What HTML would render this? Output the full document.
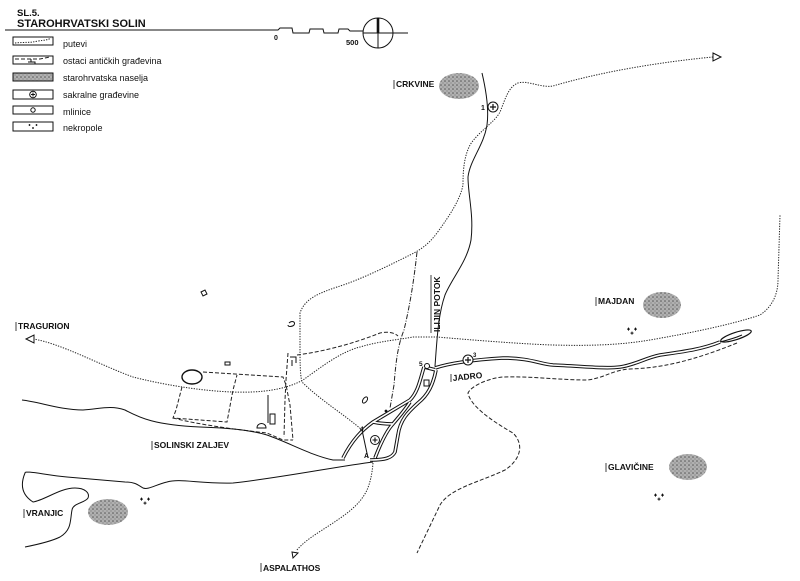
<!DOCTYPE html>
<html><head><meta charset="utf-8">
<style>
html,body{margin:0;padding:0;background:#fff;}
svg{display:block;}
text{font-family:"Liberation Sans",Arial,sans-serif;fill:#111;}
.b{font-weight:bold;font-size:8.5px;}
.lg{font-size:9px;}
.dot{fill:none;stroke:#222;stroke-width:1;stroke-dasharray:1.3 1.3;}
.dash{fill:none;stroke:#222;stroke-width:1;stroke-dasharray:4 2;}
.dd{fill:none;stroke:#222;stroke-width:1;stroke-dasharray:5 1.5 1 1.5;}
.sol{fill:none;stroke:#111;stroke-width:1;}
.rv1{fill:none;stroke:#111;stroke-width:3.6;}
.rv2{fill:none;stroke:#fff;stroke-width:1.6;}
</style></head>
<body>
<svg width="800" height="581" viewBox="0 0 800 581" xmlns="http://www.w3.org/2000/svg">
<defs>
<pattern id="st" width="4" height="4" patternUnits="userSpaceOnUse">
<rect width="4" height="4" fill="#b0b0b0"/>
<circle cx="1" cy="1" r="0.8" fill="#555"/>
<circle cx="3" cy="3" r="0.6" fill="#777"/>
</pattern>
</defs>

<!-- Title -->
<text x="17" y="16" style="font-weight:bold;font-size:9.5px">SL.5.</text>
<text x="17" y="27" style="font-weight:bold;font-size:11px">STAROHRVATSKI SOLIN</text>
<path class="sol" d="M5,30 L278,30 L280,28 L292,28 L293,33 L309,33 L310,29 L323,29 L324,33 L338,33 L339,29 L348,29 L350,31 L363,31"/>
<text x="274" y="40" style="font-weight:bold;font-size:7px">0</text>
<text x="346" y="45" style="font-weight:bold;font-size:7.5px">500</text>
<circle cx="378" cy="33" r="15" class="sol"/>
<line x1="363" y1="33" x2="408" y2="33" stroke="#111" stroke-width="1"/>
<line x1="378" y1="18" x2="378" y2="48" stroke="#111" stroke-width="1"/>
<line x1="378" y1="18" x2="378" y2="33" stroke="#111" stroke-width="2.6"/>

<!-- Legend -->
<g stroke="#111" stroke-width="1" fill="none">
<rect x="13" y="37" width="40" height="8"/>
<rect x="13" y="56" width="40" height="8"/>
<rect x="13" y="73" width="40" height="8" fill="url(#st)"/>
<rect x="13" y="90" width="40" height="9"/>
<rect x="13" y="106" width="40" height="8"/>
<rect x="13" y="122" width="40" height="9"/>
</g>
<path class="dot" d="M15,43 C25,42 30,43 38,41 C45,40 48,40 51,38"/>
<path class="dash" d="M15,59 L40,59 L50,57"/>
<path class="sol" d="M31,59 L31,62 M28,62 L35,62 L35,64"/>
<circle cx="33" cy="94.5" r="3.3" class="sol"/>
<path d="M33,92.5 V96.5 M31,94.5 H35" stroke="#111" stroke-width="1"/>
<circle cx="33" cy="110" r="2.2" class="sol"/>
<g fill="#111"><rect x="28.5" y="124.6" width="2" height="0.8"/><rect x="29.1" y="124" width="0.8" height="2"/>
<rect x="35.5" y="124.6" width="2" height="0.8"/><rect x="36.1" y="124" width="0.8" height="2"/>
<rect x="32" y="127.6" width="2" height="0.8"/><rect x="32.6" y="127" width="0.8" height="2"/></g>
<text class="lg" x="63" y="47">putevi</text>
<text class="lg" x="63" y="64">ostaci antičkih građevina</text>
<text class="lg" x="63" y="81">starohrvatska naselja</text>
<text class="lg" x="63" y="98">sakralne građevine</text>
<text class="lg" x="63" y="115">mlinice</text>
<text class="lg" x="63" y="131">nekropole</text>

<!-- Settlement blobs -->
<ellipse cx="459" cy="86" rx="20" ry="13" fill="url(#st)"/>
<ellipse cx="662" cy="305" rx="19" ry="13" fill="url(#st)"/>
<ellipse cx="688" cy="467" rx="19" ry="13" fill="url(#st)"/>
<ellipse cx="108" cy="512" rx="20" ry="13" fill="url(#st)"/>

<!-- Road from top right -->
<path class="dot" d="M713,57 C660,62 600,72 553,86 C540,88 528,80 518,83 C508,87 505,100 500,112 C495,122 478,132 470,145 C464,157 463,170 463,185 C460,200 450,215 437,233 C428,245 420,250 410,255 C390,265 360,280 337,287 C320,293 305,298 300,313 L300,345 C300,360 300,375 302,382 C320,400 345,415 362,430"/>
<polygon points="713,53 721,57 713,61" fill="#fff" stroke="#111" stroke-width="1"/>

<!-- Ilijin potok -->
<path class="sol" d="M482,73 C486,90 489,110 487,125 C484,145 470,160 468,177 C468,195 474,215 471,240 C467,262 452,278 445,295 C438,315 437,340 435,366"/>
<circle cx="493" cy="107" r="5" fill="#fff" stroke="#111" stroke-width="1"/>
<path d="M493,104 V110 M490,107 H496" stroke="#111" stroke-width="1.2"/>
<text x="481" y="110" style="font-weight:bold;font-size:7px">1</text>

<!-- dash-dot road -->
<path class="dd" d="M417,252 C414,280 410,305 404,330 C398,345 396,360 394,385 L390,408"/>

<!-- Tragurion road -->
<path class="dot" d="M33,339 C60,343 100,365 133,377 C160,384 200,391 233,392 C260,393 285,390 303,380 C320,368 340,352 360,347 C380,341 397,340 413,337 L437,337 C460,339 520,344 553,345 C590,346 620,345 650,340 C690,333 730,325 760,315 C775,305 778,290 778,280 L780,215"/>
<polygon points="26,339 34,335 34,343" fill="#fff" stroke="#111" stroke-width="1"/>

<!-- Dashed ancient -->
<path class="dash" d="M297,355 C320,352 350,345 380,333 C388,331 395,333 398,336"/>
<path class="dash" d="M203,372 L283,377 L286,385 L290,405 L293,440"/>
<path class="dash" d="M182,387 L176,410 L173,418 L227,422 L233,390 L237,375"/>
<path class="dash" d="M173,418 C200,425 240,430 267,433 L283,440 L293,440"/>
<path class="dash" d="M288,353 L286,380 L285,400 L284,437"/>
<path class="dash" d="M737,343 C690,362 660,368 630,369 C612,370 605,378 587,380 C560,380 530,376 503,377 C490,378 472,385 468,393 C470,405 490,420 513,433 C525,445 520,460 505,470 C480,482 450,488 440,505 L417,553"/>
<ellipse cx="192" cy="377" rx="10" ry="7" fill="none" stroke="#111" stroke-width="1.4"/>
<path class="sol" d="M268,395 L268,423"/>
<rect x="270" y="414" width="5" height="10" fill="none" stroke="#111" stroke-width="1"/>
<path class="sol" d="M257,428 C257,422 266,422 266,428 Z"/>

<!-- Coast -->
<path class="sol" d="M22,400 C40,402 60,410 83,410 C100,409 110,405 125,410 C140,418 155,425 200,427 C230,428 250,430 267,435 C290,443 310,455 333,460 L345,460"/>
<path class="sol" d="M373,462 C340,466 280,478 233,483 C200,484 180,478 167,482 C155,485 148,490 143,488 C138,485 135,482 125,482 L67,477 C45,475 25,470 25,473 C20,485 22,495 33,502 C45,500 60,488 75,488 C85,488 90,493 88,498 C85,503 73,503 72,510 C70,520 72,530 60,537 C50,542 35,545 25,547"/>

<!-- Aspalathos road -->
<path class="dot" d="M373,463 C372,475 370,483 367,490 C360,505 345,515 333,523 C318,533 305,540 296,551"/>
<polygon points="292,552 298,553 293,558" fill="#fff" stroke="#111" stroke-width="1"/>

<!-- Jadro river and delta -->
<g>
<path class="rv1" d="M435,368 C450,363 470,360 503,358 C530,358 540,364 553,365 C580,366 605,369 620,367 C635,365 645,358 660,355 C680,352 700,350 720,342"/>
<path class="rv1" d="M424,367 C420,380 418,392 410,400 C400,406 390,412 373,422 C362,430 352,440 343,458"/>
<path class="rv1" d="M436,370 C433,385 428,395 418,403 C408,412 400,420 398,435 L395,452 C392,458 385,460 370,460"/>
<path class="rv1" d="M410,402 C405,410 398,418 392,425 C386,432 380,445 375,458"/>
<path class="rv1" d="M424,367 L436,370"/>
<path class="rv1" d="M373,422 C382,424 388,424 393,424"/>
<path class="rv2" d="M435,368 C450,363 470,360 503,358 C530,358 540,364 553,365 C580,366 605,369 620,367 C635,365 645,358 660,355 C680,352 700,350 720,342"/>
<path class="rv2" d="M424,367 C420,380 418,392 410,400 C400,406 390,412 373,422 C362,430 352,440 343,458"/>
<path class="rv2" d="M436,370 C433,385 428,395 418,403 C408,412 400,420 398,435 L395,452 C392,458 385,460 370,460"/>
<path class="rv2" d="M410,402 C405,410 398,418 392,425 C386,432 380,445 375,458"/>
<path class="rv2" d="M424,367 L436,370"/>
<path class="rv2" d="M373,422 C382,424 388,424 393,424"/>
</g>
<path class="sol" d="M362,430 L368,458"/>
<ellipse cx="736" cy="336" rx="16" ry="3.6" transform="rotate(-18 736 336)" fill="#fff" stroke="#111" stroke-width="1.2"/>
<path class="sol" d="M720,342 C728,340 735,338 742,335"/>

<!-- Symbols -->
<circle cx="468" cy="360" r="5" fill="#fff" stroke="#111" stroke-width="1"/>
<path d="M468,357 V363 M465,360 H471" stroke="#111" stroke-width="1.2"/>
<text x="473" y="357" style="font-weight:bold;font-size:6px">3</text>
<circle cx="375" cy="440" r="4.5" fill="#fff" stroke="#111" stroke-width="1"/>
<path d="M375,437.5 V442.5 M372.5,440 H377.5" stroke="#111" stroke-width="1.1"/>
<circle cx="427" cy="366" r="2.5" fill="#fff" stroke="#111" stroke-width="1"/>
<text x="419" y="366" style="font-weight:bold;font-size:6.5px">5</text>
<text x="360" y="431" style="font-weight:bold;font-size:6.5px">4</text>
<text x="364" y="458" style="font-weight:bold;font-size:7px">A</text>
<rect x="424" y="380" width="5" height="6" fill="none" stroke="#111" stroke-width="1"/>
<ellipse cx="365" cy="400" rx="2" ry="3.5" transform="rotate(35 365 400)" fill="none" stroke="#111" stroke-width="1"/>
<path class="sol" d="M289,323 C292,320 296,322 294,325 C292,327 288,327 288,325" stroke-width="1.3"/>
<path class="sol" d="M290,357 L296,357 L296,363 M292,360 L292,366" stroke-width="1.2"/>
<path class="sol" d="M201,292 L205,290 L207,294 L203,296 Z"/>
<path class="sol" d="M225,362 L230,362 L230,365 L225,365 Z"/>
<circle cx="386" cy="411" r="1.4" fill="#111"/>

<!-- Nekropole -->
<g fill="#111">
<g transform="translate(632,332)"><rect x="-5" y="-3.4" width="3" height="1" /><rect x="-4" y="-4.4" width="1" height="3"/><rect x="2" y="-3.4" width="3" height="1"/><rect x="3" y="-4.4" width="1" height="3"/><rect x="-1.5" y="0.6" width="3" height="1"/><rect x="-0.5" y="-0.4" width="1" height="3"/></g>
<g transform="translate(659,498)"><rect x="-5" y="-3.4" width="3" height="1" /><rect x="-4" y="-4.4" width="1" height="3"/><rect x="2" y="-3.4" width="3" height="1"/><rect x="3" y="-4.4" width="1" height="3"/><rect x="-1.5" y="0.6" width="3" height="1"/><rect x="-0.5" y="-0.4" width="1" height="3"/></g>
<g transform="translate(145,502)"><rect x="-5" y="-3.4" width="3" height="1" /><rect x="-4" y="-4.4" width="1" height="3"/><rect x="2" y="-3.4" width="3" height="1"/><rect x="3" y="-4.4" width="1" height="3"/><rect x="-1.5" y="0.6" width="3" height="1"/><rect x="-0.5" y="-0.4" width="1" height="3"/></g>
</g>

<!-- Labels -->
<g stroke="#111" stroke-width="0.8">
<line x1="394" y1="80" x2="394" y2="89"/>
<line x1="16" y1="322" x2="16" y2="331"/>
<line x1="152" y1="441" x2="152" y2="450"/>
<line x1="596" y1="297" x2="596" y2="306"/>
<line x1="606" y1="463" x2="606" y2="472"/>
<line x1="24" y1="509" x2="24" y2="518"/>
<line x1="261" y1="563" x2="261" y2="572"/>
<line x1="451" y1="374" x2="451" y2="382"/>
</g>
<text class="b" x="396" y="87">CRKVINE</text>
<text class="b" x="18" y="329">TRAGURION</text>
<text class="b" x="154" y="448">SOLINSKI ZALJEV</text>
<text class="b" x="598" y="304">MAJDAN</text>
<text class="b" x="453" y="381" transform="rotate(-6 453 381)">JADRO</text>
<text class="b" x="608" y="470">GLAVIČINE</text>
<text class="b" x="26" y="516">VRANJIC</text>
<text class="b" x="263" y="571">ASPALATHOS</text>
<g transform="translate(440,332) rotate(-90)">
<text class="b" x="0" y="0">ILIJIN POTOK</text>
<line x1="-1" y1="-9" x2="57" y2="-9" stroke="#111" stroke-width="0.8"/>
</g>
</svg>
</body></html>
